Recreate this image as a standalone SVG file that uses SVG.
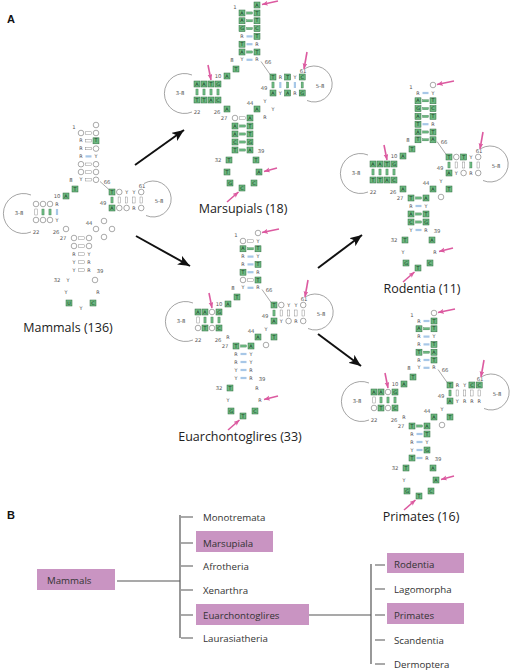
<svg xmlns="http://www.w3.org/2000/svg" width="512" height="671" viewBox="0 0 512 671">
<style>
text{font-family:"DejaVu Sans","Liberation Sans",sans-serif}
.l{font-size:4.8px;fill:#10301a;text-anchor:middle;dominant-baseline:central}
.r{font-size:4.8px;fill:#333;text-anchor:middle;dominant-baseline:central}
.n{font-size:5.3px;fill:#555;text-anchor:middle;dominant-baseline:central}
.cap{font-family:"Open Sans",sans-serif;font-size:12.5px;fill:#222;text-anchor:middle}
.tr{font-family:"Open Sans",sans-serif;font-size:9.7px;fill:#333}
.hd{font-family:"Liberation Sans",sans-serif;font-size:11px;font-weight:bold;fill:#111}
.arc{fill:none;stroke:#666;stroke-width:0.6}
.ln{stroke:#555;stroke-width:0.5}
.pk{stroke:#dc5aa0;stroke-width:1.6;marker-end:url(#ph)}
.bk{stroke:#111;stroke-width:2;marker-end:url(#ah)}
.tl{stroke:#555;stroke-width:1.2;fill:none}
.pb{fill:#c994c2}
</style>
<defs>
<rect id="b" x="-3" y="-3" width="6" height="6" fill="#6cb880" stroke="#2e6b3e" stroke-width="0.5"/>
<circle id="o" r="2.8" fill="#fff" stroke="#555" stroke-width="0.5"/>
<rect id="hg" x="-3" y="-1.1" width="6" height="2.2" fill="#6cb880" stroke="#2e6b3e" stroke-width="0.3"/>
<rect id="hb" x="-3" y="-1.1" width="6" height="2.2" fill="#a7c7e7"/>
<rect id="hw" x="-3" y="-1.2" width="6" height="2.4" fill="#fff" stroke="#777" stroke-width="0.4"/>
<rect id="vg" x="-1.1" y="-3" width="2.2" height="6" fill="#6cb880" stroke="#2e6b3e" stroke-width="0.3"/>
<rect id="vb" x="-1.1" y="-3" width="2.2" height="6" fill="#a7c7e7"/>
<rect id="vw" x="-1.2" y="-3" width="2.4" height="6" fill="#fff" stroke="#777" stroke-width="0.4"/>
<path id="da" class="arc" d="M-50 62A20 20 0 1 0 -50 99"/>
<path id="ta" class="arc" d="M63 55.5A18 18 0 1 1 65 87.5"/>
<marker id="ph" markerUnits="userSpaceOnUse" markerWidth="7" markerHeight="6" refX="6" refY="2.5" orient="auto"><path d="M0,0L6,2.5L0,5L1.5,2.5z" fill="#dc5aa0"/></marker>
<marker id="ah" markerUnits="userSpaceOnUse" markerWidth="13" markerHeight="10" refX="12" refY="5" orient="auto"><path d="M0,0L12,5L0,10L3,5z" fill="#111"/></marker>
</defs>
<rect width="512" height="671" fill="#fff"/>
<text class="hd" x="7" y="23">A</text>
<text class="hd" x="7" y="519">B</text>

<!-- Mammals -->
<g id="mammals" transform="translate(81,133)">
<use href="#o" x="15" y="-8"/><text class="n" x="-7" y="-6">1</text>
<use href="#o" x="0" y="0"/><use href="#hw" x="7.5" y="0"/><use href="#o" x="15" y="0"/>
<text class="r" x="0" y="7.8">R</text><use href="#hw" x="7.5" y="7.8"/><use href="#b" x="15" y="7.8"/><text class="l" x="15" y="7.8">T</text>
<text class="r" x="0" y="15.6">R</text><use href="#hw" x="7.5" y="15.6"/><use href="#o" x="15" y="15.6"/>
<text class="r" x="0" y="23.4">R</text><use href="#hb" x="7.5" y="23.4"/><text class="r" x="15" y="23.4">Y</text>
<use href="#o" x="0" y="31.2"/><use href="#hw" x="7.5" y="31.2"/><use href="#o" x="15" y="31.2"/>
<use href="#o" x="0" y="39"/><use href="#hw" x="7.5" y="39"/><use href="#o" x="15" y="39"/>
<text class="r" x="0" y="46.8">Y</text><use href="#hw" x="7.5" y="46.8"/><use href="#o" x="15" y="46.8"/>
<text class="n" x="-10" y="47">8</text><text class="n" x="26" y="49">66</text>
<line class="ln" x1="19" y1="48.5" x2="28.5" y2="57"/>
<use href="#b" x="-6" y="56"/><text class="l" x="-6" y="56">T</text>
<use href="#b" x="-15" y="63"/><text class="l" x="-15" y="63">A</text><text class="n" x="-24" y="63">10</text>
<use href="#o" x="-45" y="71"/><use href="#o" x="-38" y="71"/><use href="#o" x="-31" y="71"/><text class="r" x="-24" y="71">R</text>
<use href="#vw" x="-45" y="79"/><use href="#vg" x="-38" y="79"/><use href="#vg" x="-31" y="79"/><use href="#vb" x="-24" y="79"/>
<use href="#o" x="-45" y="87"/><use href="#o" x="-38" y="87"/><use href="#o" x="-31" y="87"/><text class="r" x="-24" y="87">Y</text>
<text class="n" x="-45" y="99">22</text><text class="n" x="-25" y="99">26</text><use href="#o" x="-15" y="96"/>
<use href="#da"/><text class="n" x="-62" y="80">3-8</text>
<g transform="translate(0,-5)">
<use href="#b" x="31" y="64"/><text class="l" x="31" y="64">T</text><use href="#o" x="38.3" y="64"/><text class="r" x="45.6" y="64">Y</text><text class="r" x="52.9" y="64">Y</text><use href="#o" x="60.2" y="64"/>
<use href="#vg" x="31" y="72"/><use href="#vw" x="38.3" y="72"/><use href="#vw" x="45.6" y="72"/><use href="#vw" x="52.9" y="72"/><use href="#vw" x="60.2" y="72"/>
<use href="#b" x="31" y="80"/><text class="l" x="31" y="80">A</text><use href="#o" x="38.3" y="80"/><use href="#o" x="45.6" y="80"/><text class="r" x="52.9" y="80">R</text><use href="#o" x="60.2" y="80"/>
<text class="n" x="22" y="75">49</text><text class="n" x="61" y="58">61</text>
<use href="#ta"/><text class="n" x="78" y="73">5-8</text>
</g>
<text class="n" x="8" y="90">44</text><use href="#o" x="15" y="96"/><use href="#o" x="23" y="88"/><use href="#o" x="31" y="96"/><use href="#o" x="23" y="104"/>
<text class="n" x="-18" y="105">27</text>
<use href="#o" x="-7" y="105"/><use href="#hw" x="0.5" y="105"/><use href="#o" x="8" y="105"/>
<use href="#o" x="-7" y="113"/><use href="#hw" x="0.5" y="113"/><use href="#o" x="8" y="113"/>
<text class="r" x="-7" y="121">R</text><use href="#hw" x="0.5" y="121"/><text class="r" x="8" y="121">Y</text>
<text class="r" x="-7" y="129">Y</text><use href="#hw" x="0.5" y="129"/><text class="r" x="8" y="129">R</text>
<text class="r" x="-7" y="137">Y</text><use href="#hw" x="0.5" y="137"/><text class="r" x="8" y="137">R</text>
<text class="n" x="19" y="138">39</text><text class="n" x="-24" y="147">32</text>
<text class="r" x="-13" y="147">Y</text><text class="r" x="-15" y="159">Y</text><use href="#b" x="-12" y="170"/><text class="l" x="-12" y="170">U</text>
<text class="r" x="0" y="175">Y</text><use href="#b" x="12" y="170"/><text class="l" x="12" y="170">C</text><text class="r" x="17" y="159">R</text><use href="#o" x="14" y="147"/>
<text class="cap" x="-13" y="199">Mammals (136)</text>
</g>

<!-- Marsupials -->
<g id="marsupials" transform="translate(242,13)">
<use href="#b" x="15" y="-8"/><text class="l" x="15" y="-8">A</text><text class="n" x="-7" y="-6">1</text>
<use href="#b" x="0" y="0"/><text class="l" x="0" y="0">A</text><use href="#hg" x="7.5" y="0"/><use href="#b" x="15" y="0"/><text class="l" x="15" y="0">T</text>
<use href="#b" x="0" y="7.8"/><text class="l" x="0" y="7.8">A</text><use href="#hg" x="7.5" y="7.8"/><use href="#b" x="15" y="7.8"/><text class="l" x="15" y="7.8">T</text>
<use href="#b" x="0" y="15.6"/><text class="l" x="0" y="15.6">G</text><use href="#hg" x="7.5" y="15.6"/><use href="#b" x="15" y="15.6"/><text class="l" x="15" y="15.6">C</text>
<text class="r" x="0" y="23.4">R</text><use href="#hb" x="7.5" y="23.4"/><use href="#b" x="15" y="23.4"/><text class="l" x="15" y="23.4">T</text>
<use href="#b" x="0" y="31.2"/><text class="l" x="0" y="31.2">T</text><use href="#hb" x="7.5" y="31.2"/><text class="r" x="15" y="31.2">R</text>
<use href="#b" x="0" y="39"/><text class="l" x="0" y="39">A</text><use href="#hg" x="7.5" y="39"/><use href="#b" x="15" y="39"/><text class="l" x="15" y="39">T</text>
<text class="r" x="0" y="46.8">Y</text><use href="#hb" x="7.5" y="46.8"/><text class="r" x="15" y="46.8">R</text>
<text class="n" x="-10" y="47">8</text><text class="n" x="26" y="49">66</text>
<line class="ln" x1="19" y1="48.5" x2="28.5" y2="62"/>
<use href="#b" x="-6" y="56"/><text class="l" x="-6" y="56">T</text>
<use href="#b" x="-15" y="63"/><text class="l" x="-15" y="63">A</text><text class="n" x="-24" y="63">10</text>
<use href="#b" x="-45" y="71"/><text class="l" x="-45" y="71">A</text><use href="#b" x="-38" y="71"/><text class="l" x="-38" y="71">A</text><use href="#b" x="-31" y="71"/><text class="l" x="-31" y="71">T</text><use href="#b" x="-24" y="71"/><text class="l" x="-24" y="71">G</text>
<use href="#vg" x="-45" y="79"/><use href="#vg" x="-38" y="79"/><use href="#vg" x="-31" y="79"/><use href="#vg" x="-24" y="79"/>
<use href="#b" x="-45" y="87"/><text class="l" x="-45" y="87">T</text><use href="#b" x="-38" y="87"/><text class="l" x="-38" y="87">T</text><use href="#b" x="-31" y="87"/><text class="l" x="-31" y="87">A</text><use href="#b" x="-24" y="87"/><text class="l" x="-24" y="87">C</text>
<text class="n" x="-45" y="99">22</text><text class="n" x="-25" y="99">26</text><use href="#b" x="-15" y="96"/><text class="l" x="-15" y="96">A</text>
<use href="#da"/><text class="n" x="-62" y="80">3-8</text>
<use href="#b" x="31" y="64"/><text class="l" x="31" y="64">T</text><text class="r" x="38.3" y="64">R</text><use href="#b" x="45.6" y="64"/><text class="l" x="45.6" y="64">T</text><text class="r" x="52.9" y="64">Y</text><use href="#b" x="60.2" y="64"/><text class="l" x="60.2" y="64">C</text>
<use href="#vg" x="31" y="72"/><use href="#vb" x="38.3" y="72"/><use href="#vg" x="45.6" y="72"/><use href="#vb" x="52.9" y="72"/><use href="#vg" x="60.2" y="72"/>
<use href="#b" x="31" y="80"/><text class="l" x="31" y="80">A</text><text class="r" x="38.3" y="80">Y</text><use href="#b" x="45.6" y="80"/><text class="l" x="45.6" y="80">A</text><text class="r" x="52.9" y="80">R</text><use href="#b" x="60.2" y="80"/><text class="l" x="60.2" y="80">G</text>
<text class="n" x="22" y="75">49</text><text class="n" x="61" y="58">61</text>
<use href="#ta"/><text class="n" x="78" y="73">5-8</text>
<text class="n" x="8" y="90">44</text><use href="#b" x="15" y="96"/><text class="l" x="15" y="96">A</text><text class="r" x="23" y="88">Y</text><text class="r" x="31" y="96">Y</text><text class="r" x="23" y="104">R</text>
<text class="n" x="-18" y="105">27</text>
<use href="#o" x="-7" y="105"/><use href="#hw" x="0.5" y="105"/><use href="#b" x="8" y="105"/><text class="l" x="8" y="105">A</text>
<use href="#b" x="-7" y="113"/><text class="l" x="-7" y="113">A</text><use href="#hg" x="0.5" y="113"/><use href="#b" x="8" y="113"/><text class="l" x="8" y="113">T</text>
<use href="#b" x="-7" y="121"/><text class="l" x="-7" y="121">A</text><use href="#hg" x="0.5" y="121"/><use href="#b" x="8" y="121"/><text class="l" x="8" y="121">T</text>
<use href="#b" x="-7" y="129"/><text class="l" x="-7" y="129">C</text><use href="#hg" x="0.5" y="129"/><use href="#b" x="8" y="129"/><text class="l" x="8" y="129">G</text>
<use href="#b" x="-7" y="137"/><text class="l" x="-7" y="137">T</text><use href="#hg" x="0.5" y="137"/><use href="#b" x="8" y="137"/><text class="l" x="8" y="137">A</text>
<text class="n" x="19" y="138">39</text><text class="n" x="-24" y="147">32</text>
<use href="#b" x="-13" y="147"/><text class="l" x="-13" y="147">T</text><use href="#b" x="-15" y="159"/><text class="l" x="-15" y="159">T</text><use href="#b" x="-12" y="170"/><text class="l" x="-12" y="170">G</text>
<use href="#b" x="0" y="175"/><text class="l" x="0" y="175">C</text><use href="#b" x="12" y="170"/><text class="l" x="12" y="170">C</text><use href="#b" x="17" y="159"/><text class="l" x="17" y="159">A</text><use href="#b" x="14" y="147"/><text class="l" x="14" y="147">T</text>
<line class="pk" x1="36" y1="-12" x2="20" y2="-8.5"/><line class="pk" x1="-34" y1="52" x2="-31" y2="67"/><line class="pk" x1="65" y1="39" x2="62" y2="56"/><line class="pk" x1="35" y1="155" x2="22" y2="158.5"/><line class="pk" x1="-15" y1="189" x2="-3.5" y2="179"/>
<text class="cap" x="1" y="199.5">Marsupials (18)</text>
</g>

<!-- Euarchontoglires -->
<g id="euarchontoglires" transform="translate(243,241)">
<use href="#o" x="15" y="-8"/><text class="n" x="-7" y="-6">1</text>
<use href="#o" x="0" y="0"/><use href="#hw" x="7.5" y="0"/><text class="r" x="15" y="0">Y</text>
<use href="#b" x="0" y="7.8"/><text class="l" x="0" y="7.8">A</text><use href="#hg" x="7.5" y="7.8"/><use href="#b" x="15" y="7.8"/><text class="l" x="15" y="7.8">T</text>
<text class="r" x="0" y="15.6">R</text><use href="#hb" x="7.5" y="15.6"/><text class="r" x="15" y="15.6">Y</text>
<text class="r" x="0" y="23.4">R</text><use href="#hb" x="7.5" y="23.4"/><use href="#b" x="15" y="23.4"/><text class="l" x="15" y="23.4">T</text>
<use href="#b" x="0" y="31.2"/><text class="l" x="0" y="31.2">T</text><use href="#hb" x="7.5" y="31.2"/><text class="r" x="15" y="31.2">R</text>
<use href="#o" x="0" y="39"/><use href="#hw" x="7.5" y="39"/><use href="#b" x="15" y="39"/><text class="l" x="15" y="39">T</text>
<text class="r" x="0" y="46.8">Y</text><use href="#hb" x="7.5" y="46.8"/><text class="r" x="15" y="46.8">R</text>
<text class="n" x="-10" y="47">8</text><text class="n" x="26" y="49">66</text>
<line class="ln" x1="19" y1="48.5" x2="28.5" y2="62"/>
<use href="#b" x="-6" y="56"/><text class="l" x="-6" y="56">T</text>
<use href="#b" x="-15" y="63"/><text class="l" x="-15" y="63">A</text><text class="n" x="-24" y="63">10</text>
<use href="#b" x="-45" y="71"/><text class="l" x="-45" y="71">A</text><use href="#b" x="-38" y="71"/><text class="l" x="-38" y="71">A</text><use href="#o" x="-31" y="71"/><use href="#b" x="-24" y="71"/><text class="l" x="-24" y="71">G</text>
<use href="#vw" x="-45" y="79"/><use href="#vg" x="-38" y="79"/><use href="#vg" x="-31" y="79"/><use href="#vg" x="-24" y="79"/>
<use href="#o" x="-45" y="87"/><use href="#b" x="-38" y="87"/><text class="l" x="-38" y="87">T</text><use href="#o" x="-31" y="87"/><use href="#b" x="-24" y="87"/><text class="l" x="-24" y="87">C</text>
<text class="n" x="-45" y="99">22</text><text class="n" x="-25" y="99">26</text><text class="r" x="-15" y="96">R</text>
<use href="#da"/><text class="n" x="-62" y="80">3-8</text>
<use href="#b" x="31" y="64"/><text class="l" x="31" y="64">T</text><use href="#o" x="38.3" y="64"/><text class="r" x="45.6" y="64">Y</text><text class="r" x="52.9" y="64">Y</text><use href="#o" x="60.2" y="64"/>
<use href="#vg" x="31" y="72"/><use href="#vw" x="38.3" y="72"/><use href="#vw" x="45.6" y="72"/><use href="#vw" x="52.9" y="72"/><use href="#vw" x="60.2" y="72"/>
<use href="#b" x="31" y="80"/><text class="l" x="31" y="80">A</text><text class="r" x="38.3" y="80">Y</text><use href="#o" x="45.6" y="80"/><text class="r" x="52.9" y="80">R</text><use href="#o" x="60.2" y="80"/>
<text class="n" x="22" y="75">49</text><text class="n" x="61" y="58">61</text>
<use href="#ta"/><text class="n" x="78" y="73">5-8</text>
<text class="n" x="8" y="90">44</text><use href="#b" x="15" y="96"/><text class="l" x="15" y="96">A</text><text class="r" x="23" y="88">Y</text><use href="#b" x="31" y="96"/><text class="l" x="31" y="96">T</text><use href="#o" x="23" y="104"/>
<text class="n" x="-18" y="105">27</text>
<use href="#b" x="-7" y="105"/><text class="l" x="-7" y="105">T</text><use href="#hg" x="0.5" y="105"/><use href="#b" x="8" y="105"/><text class="l" x="8" y="105">A</text>
<text class="r" x="-7" y="113">R</text><use href="#hb" x="0.5" y="113"/><text class="r" x="8" y="113">Y</text>
<text class="r" x="-7" y="121">R</text><use href="#hb" x="0.5" y="121"/><text class="r" x="8" y="121">Y</text>
<text class="r" x="-7" y="129">Y</text><use href="#hb" x="0.5" y="129"/><text class="r" x="8" y="129">R</text>
<text class="r" x="-7" y="137">Y</text><use href="#hb" x="0.5" y="137"/><text class="r" x="8" y="137">R</text>
<text class="n" x="19" y="138">39</text><text class="n" x="-24" y="147">32</text>
<use href="#b" x="-13" y="147"/><text class="l" x="-13" y="147">T</text><text class="r" x="-15" y="159">Y</text><use href="#b" x="-12" y="170"/><text class="l" x="-12" y="170">G</text>
<use href="#b" x="0" y="175"/><text class="l" x="0" y="175">T</text><use href="#b" x="12" y="170"/><text class="l" x="12" y="170">C</text><text class="r" x="17" y="159">R</text><text class="r" x="14" y="147">R</text>
<line class="pk" x1="36" y1="-12" x2="19" y2="-8.5"/><line class="pk" x1="-34" y1="52" x2="-31" y2="67"/><line class="pk" x1="65" y1="39" x2="62" y2="56"/><line class="pk" x1="35" y1="155" x2="21" y2="158.5"/><line class="pk" x1="-15" y1="189" x2="-3.5" y2="179"/>
<text class="cap" x="-3" y="199.5">Euarchontoglires (33)</text>
</g>

<!-- Rodentia -->
<g id="rodentia" transform="translate(418,93)">
<use href="#o" x="15" y="-8"/><text class="n" x="-7" y="-6">1</text>
<text class="r" x="0" y="0">R</text><use href="#hb" x="7.5" y="0"/><text class="r" x="15" y="0">Y</text>
<use href="#b" x="0" y="7.8"/><text class="l" x="0" y="7.8">A</text><use href="#hg" x="7.5" y="7.8"/><use href="#b" x="15" y="7.8"/><text class="l" x="15" y="7.8">T</text>
<use href="#b" x="0" y="15.6"/><text class="l" x="0" y="15.6">G</text><use href="#hg" x="7.5" y="15.6"/><use href="#b" x="15" y="15.6"/><text class="l" x="15" y="15.6">C</text>
<use href="#b" x="0" y="23.4"/><text class="l" x="0" y="23.4">A</text><use href="#hg" x="7.5" y="23.4"/><use href="#b" x="15" y="23.4"/><text class="l" x="15" y="23.4">T</text>
<use href="#b" x="0" y="31.2"/><text class="l" x="0" y="31.2">T</text><use href="#hb" x="7.5" y="31.2"/><text class="r" x="15" y="31.2">R</text>
<use href="#b" x="0" y="39"/><text class="l" x="0" y="39">A</text><use href="#hg" x="7.5" y="39"/><use href="#b" x="15" y="39"/><text class="l" x="15" y="39">T</text>
<use href="#b" x="0" y="46.8"/><text class="l" x="0" y="46.8">T</text><use href="#hg" x="7.5" y="46.8"/><use href="#b" x="15" y="46.8"/><text class="l" x="15" y="46.8">A</text>
<text class="n" x="-10" y="47">8</text><text class="n" x="26" y="49">66</text>
<line class="ln" x1="19" y1="48.5" x2="28.5" y2="62"/>
<use href="#b" x="-6" y="56"/><text class="l" x="-6" y="56">T</text>
<use href="#b" x="-15" y="63"/><text class="l" x="-15" y="63">A</text><text class="n" x="-24" y="63">10</text>
<use href="#b" x="-45" y="71"/><text class="l" x="-45" y="71">A</text><use href="#b" x="-38" y="71"/><text class="l" x="-38" y="71">A</text><use href="#b" x="-31" y="71"/><text class="l" x="-31" y="71">T</text><use href="#b" x="-24" y="71"/><text class="l" x="-24" y="71">G</text>
<use href="#vg" x="-45" y="79"/><use href="#vg" x="-38" y="79"/><use href="#vg" x="-31" y="79"/><use href="#vg" x="-24" y="79"/>
<use href="#b" x="-45" y="87"/><text class="l" x="-45" y="87">T</text><use href="#b" x="-38" y="87"/><text class="l" x="-38" y="87">T</text><use href="#b" x="-31" y="87"/><text class="l" x="-31" y="87">A</text><use href="#b" x="-24" y="87"/><text class="l" x="-24" y="87">C</text>
<text class="n" x="-45" y="99">22</text><text class="n" x="-25" y="99">26</text><use href="#b" x="-15" y="96"/><text class="l" x="-15" y="96">A</text>
<use href="#da"/><text class="n" x="-62" y="80">3-8</text>
<use href="#b" x="31" y="64"/><text class="l" x="31" y="64">T</text><use href="#o" x="38.3" y="64"/><use href="#b" x="45.6" y="64"/><text class="l" x="45.6" y="64">T</text><text class="r" x="52.9" y="64">Y</text><use href="#o" x="60.2" y="64"/>
<use href="#vg" x="31" y="72"/><use href="#vw" x="38.3" y="72"/><use href="#vw" x="45.6" y="72"/><use href="#vg" x="52.9" y="72"/><use href="#vw" x="60.2" y="72"/>
<use href="#b" x="31" y="80"/><text class="l" x="31" y="80">A</text><text class="r" x="38.3" y="80">Y</text><use href="#o" x="45.6" y="80"/><text class="r" x="52.9" y="80">R</text><use href="#o" x="60.2" y="80"/>
<text class="n" x="22" y="75">49</text><text class="n" x="61" y="58">61</text>
<use href="#ta"/><text class="n" x="78" y="73">5-8</text>
<text class="n" x="8" y="90">44</text><use href="#b" x="15" y="96"/><text class="l" x="15" y="96">A</text><text class="r" x="23" y="88">Y</text><use href="#b" x="31" y="96"/><text class="l" x="31" y="96">T</text><use href="#o" x="23" y="104"/>
<text class="n" x="-18" y="105">27</text>
<use href="#b" x="-7" y="105"/><text class="l" x="-7" y="105">T</text><use href="#hg" x="0.5" y="105"/><use href="#b" x="8" y="105"/><text class="l" x="8" y="105">A</text>
<text class="r" x="-7" y="113">R</text><use href="#hb" x="0.5" y="113"/><text class="r" x="8" y="113">Y</text>
<use href="#b" x="-7" y="121"/><text class="l" x="-7" y="121">A</text><use href="#hg" x="0.5" y="121"/><use href="#b" x="8" y="121"/><text class="l" x="8" y="121">T</text>
<use href="#b" x="-7" y="129"/><text class="l" x="-7" y="129">C</text><use href="#hg" x="0.5" y="129"/><use href="#b" x="8" y="129"/><text class="l" x="8" y="129">G</text>
<text class="r" x="-7" y="137">Y</text><use href="#hb" x="0.5" y="137"/><text class="r" x="8" y="137">R</text>
<text class="n" x="19" y="138">39</text><text class="n" x="-24" y="147">32</text>
<use href="#b" x="-13" y="147"/><text class="l" x="-13" y="147">T</text><text class="r" x="-15" y="159">Y</text><use href="#b" x="-12" y="170"/><text class="l" x="-12" y="170">G</text>
<use href="#b" x="0" y="175"/><text class="l" x="0" y="175">T</text><use href="#b" x="12" y="170"/><text class="l" x="12" y="170">C</text><text class="r" x="17" y="159">R</text><use href="#b" x="14" y="147"/><text class="l" x="14" y="147">A</text>
<line class="pk" x1="36" y1="-12" x2="19" y2="-8.5"/><line class="pk" x1="-34" y1="52" x2="-31" y2="67"/><line class="pk" x1="65" y1="39" x2="62" y2="56"/><line class="pk" x1="35" y1="155" x2="21" y2="158.5"/><line class="pk" x1="-15" y1="189" x2="-3.5" y2="179"/>
<text class="cap" x="4" y="199.5">Rodentia (11)</text>
</g>

<!-- Primates -->
<g id="primates" transform="translate(419,321)">
<use href="#o" x="15" y="-8"/><text class="n" x="-7" y="-6">1</text>
<text class="r" x="0" y="0">R</text><use href="#hb" x="7.5" y="0"/><use href="#b" x="15" y="0"/><text class="l" x="15" y="0">T</text>
<use href="#b" x="0" y="7.8"/><text class="l" x="0" y="7.8">A</text><use href="#hg" x="7.5" y="7.8"/><use href="#b" x="15" y="7.8"/><text class="l" x="15" y="7.8">T</text>
<text class="r" x="0" y="15.6">R</text><use href="#hb" x="7.5" y="15.6"/><text class="r" x="15" y="15.6">Y</text>
<text class="r" x="0" y="23.4">R</text><use href="#hb" x="7.5" y="23.4"/><use href="#b" x="15" y="23.4"/><text class="l" x="15" y="23.4">T</text>
<use href="#b" x="0" y="31.2"/><text class="l" x="0" y="31.2">T</text><use href="#hg" x="7.5" y="31.2"/><use href="#b" x="15" y="31.2"/><text class="l" x="15" y="31.2">A</text>
<text class="r" x="0" y="39">R</text><use href="#hb" x="7.5" y="39"/><use href="#b" x="15" y="39"/><text class="l" x="15" y="39">T</text>
<text class="r" x="0" y="46.8">Y</text><use href="#hb" x="7.5" y="46.8"/><text class="r" x="15" y="46.8">R</text>
<text class="n" x="-10" y="47">8</text><text class="n" x="26" y="49">66</text>
<line class="ln" x1="19" y1="48.5" x2="28.5" y2="62"/>
<use href="#b" x="-6" y="56"/><text class="l" x="-6" y="56">T</text>
<use href="#b" x="-15" y="63"/><text class="l" x="-15" y="63">A</text><text class="n" x="-24" y="63">10</text>
<use href="#b" x="-45" y="71"/><text class="l" x="-45" y="71">A</text><use href="#b" x="-38" y="71"/><text class="l" x="-38" y="71">A</text><use href="#o" x="-31" y="71"/><use href="#b" x="-24" y="71"/><text class="l" x="-24" y="71">G</text>
<use href="#vw" x="-45" y="79"/><use href="#vg" x="-38" y="79"/><use href="#vg" x="-31" y="79"/><use href="#vg" x="-24" y="79"/>
<use href="#o" x="-45" y="87"/><use href="#b" x="-38" y="87"/><text class="l" x="-38" y="87">T</text><use href="#o" x="-31" y="87"/><use href="#b" x="-24" y="87"/><text class="l" x="-24" y="87">C</text>
<text class="n" x="-45" y="99">22</text><text class="n" x="-25" y="99">26</text><text class="r" x="-15" y="96">R</text>
<use href="#da"/><text class="n" x="-62" y="80">3-8</text>
<use href="#b" x="31" y="64"/><text class="l" x="31" y="64">T</text><text class="r" x="38.3" y="64">R</text><text class="r" x="45.6" y="64">Y</text><use href="#b" x="52.9" y="64"/><text class="l" x="52.9" y="64">C</text><use href="#b" x="60.2" y="64"/><text class="l" x="60.2" y="64">C</text>
<use href="#vg" x="31" y="72"/><use href="#vw" x="38.3" y="72"/><use href="#vw" x="45.6" y="72"/><use href="#vw" x="52.9" y="72"/><use href="#vw" x="60.2" y="72"/>
<use href="#b" x="31" y="80"/><text class="l" x="31" y="80">A</text><text class="r" x="38.3" y="80">Y</text><text class="r" x="45.6" y="80">R</text><text class="r" x="52.9" y="80">R</text><text class="r" x="60.2" y="80">R</text>
<text class="n" x="22" y="75">49</text><text class="n" x="61" y="58">61</text>
<use href="#ta"/><text class="n" x="78" y="73">5-8</text>
<text class="n" x="8" y="90">44</text><use href="#b" x="15" y="96"/><text class="l" x="15" y="96">A</text><text class="r" x="23" y="88">Y</text><use href="#b" x="31" y="96"/><text class="l" x="31" y="96">T</text><use href="#o" x="23" y="104"/>
<text class="n" x="-18" y="105">27</text>
<use href="#b" x="-7" y="105"/><text class="l" x="-7" y="105">T</text><use href="#hg" x="0.5" y="105"/><use href="#b" x="8" y="105"/><text class="l" x="8" y="105">A</text>
<text class="r" x="-7" y="113">R</text><use href="#hb" x="0.5" y="113"/><use href="#b" x="8" y="113"/><text class="l" x="8" y="113">T</text>
<text class="r" x="-7" y="121">R</text><use href="#hb" x="0.5" y="121"/><text class="r" x="8" y="121">Y</text>
<text class="r" x="-7" y="129">Y</text><use href="#hb" x="0.5" y="129"/><use href="#b" x="8" y="129"/><text class="l" x="8" y="129">G</text>
<use href="#b" x="-7" y="137"/><text class="l" x="-7" y="137">T</text><use href="#hb" x="0.5" y="137"/><text class="r" x="8" y="137">R</text>
<text class="n" x="19" y="138">39</text><text class="n" x="-24" y="147">32</text>
<use href="#b" x="-13" y="147"/><text class="l" x="-13" y="147">T</text><text class="r" x="-15" y="159">Y</text><use href="#b" x="-12" y="170"/><text class="l" x="-12" y="170">G</text>
<use href="#b" x="0" y="175"/><text class="l" x="0" y="175">T</text><use href="#b" x="12" y="170"/><text class="l" x="12" y="170">C</text><use href="#b" x="17" y="159"/><text class="l" x="17" y="159">A</text><use href="#b" x="14" y="147"/><text class="l" x="14" y="147">A</text>
<line class="pk" x1="36" y1="-12" x2="19" y2="-8.5"/><line class="pk" x1="-34" y1="52" x2="-31" y2="67"/><line class="pk" x1="65" y1="39" x2="62" y2="56"/><line class="pk" x1="35" y1="155" x2="22" y2="158.5"/><line class="pk" x1="-15" y1="189" x2="-3.5" y2="179"/>
<text class="cap" x="2" y="199.5">Primates (16)</text>
</g>

<g id="connectors">
<line class="bk" x1="135" y1="165" x2="184" y2="130"/>
<line class="bk" x1="136" y1="236" x2="190" y2="266"/>
<line class="bk" x1="318" y1="268" x2="362" y2="235"/>
<line class="bk" x1="318" y1="334" x2="361" y2="366"/>
<path class="tl" d="M117 581H180M180 515V638M181 517H193M181 543H193M181 566H193M181 590H193M181 615H193M181 638H193"/>
<path class="tl" d="M308 615H371M371 564V664M375 565H385M375 589H385M375 615H385M375 640H385M375 664H385"/>
</g>

<g id="tree-mammals"><rect class="pb" x="37" y="569" width="78" height="21"/><text class="tr" x="47" y="583.5">Mammals</text></g>
<g id="tree-monotremata"><text class="tr" x="203" y="520.5">Monotremata</text></g>
<g id="tree-marsupiala"><rect class="pb" x="196" y="531" width="77" height="21"/><text class="tr" x="203" y="546.5">Marsupiala</text></g>
<g id="tree-afrotheria"><text class="tr" x="203" y="569.5">Afrotheria</text></g>
<g id="tree-xenarthra"><text class="tr" x="203" y="593.5">Xenarthra</text></g>
<g id="tree-euarchontoglires"><rect class="pb" x="196" y="604" width="113" height="21"/><text class="tr" x="203" y="618.5">Euarchontoglires</text></g>
<g id="tree-laurasiatheria"><text class="tr" x="203" y="641.5">Laurasiatheria</text></g>
<g id="tree-rodentia"><rect class="pb" x="387" y="553" width="77" height="20"/><text class="tr" x="394" y="568">Rodentia</text></g>
<g id="tree-lagomorpha"><text class="tr" x="394" y="592.5">Lagomorpha</text></g>
<g id="tree-primates"><rect class="pb" x="387" y="603" width="77" height="21"/><text class="tr" x="394" y="618.5">Primates</text></g>
<g id="tree-scandentia"><text class="tr" x="394" y="643.5">Scandentia</text></g>
<g id="tree-dermoptera"><text class="tr" x="394" y="667.5">Dermoptera</text></g>
</svg>
